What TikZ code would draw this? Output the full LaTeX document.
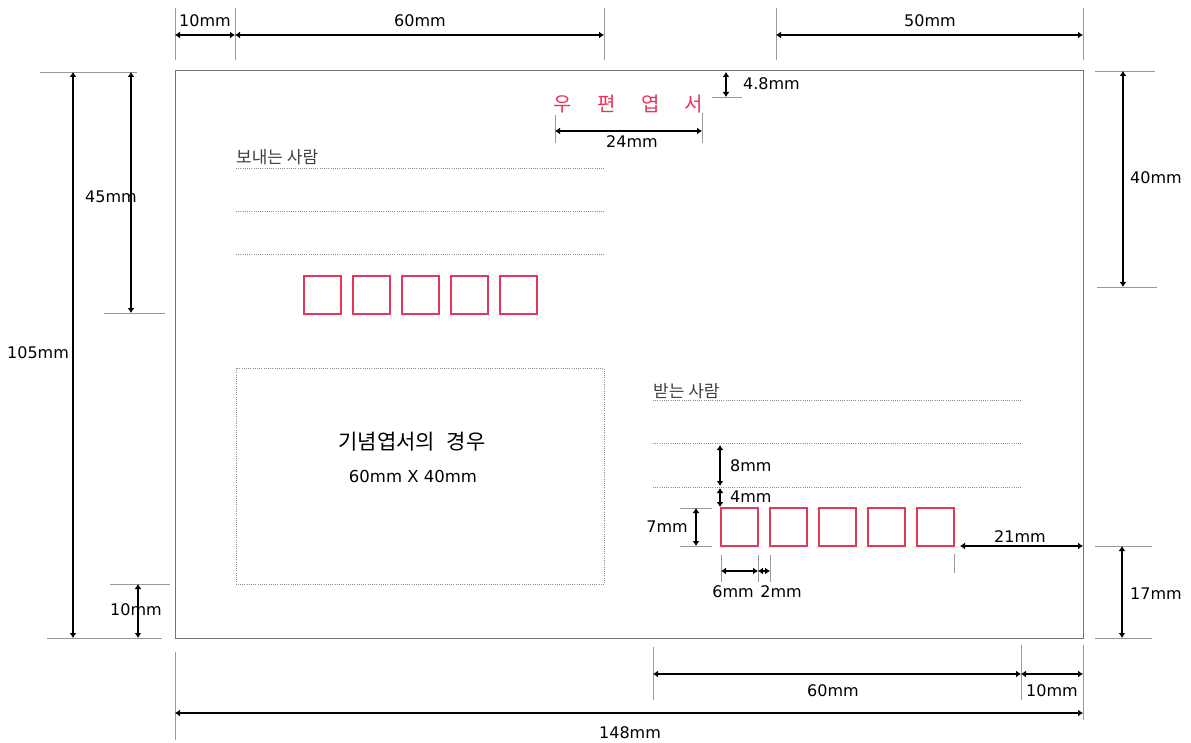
\documentclass[tikz,border=0pt]{standalone}
\usepackage{fontspec}
\setmainfont{DejaVu Sans}
\newfontfamily\kr{Noto Sans CJK KR}
\usetikzlibrary{arrows.meta}
\definecolor{pink}{HTML}{E8355A}
\definecolor{extgray}{HTML}{9A9A9A}
\tikzset{
  dim/.style={line width=1.8pt, {Latex[length=5pt,width=7pt]}-{Latex[length=5pt,width=7pt]}},
  ext/.style={draw=extgray, line width=0.9pt},
  lbl/.style={font=\fontsize{16}{16}\selectfont, inner sep=0pt},
  krl/.style={font=\kr\fontsize{17}{17}\selectfont, inner sep=0pt, text=black!75},
  dots/.style={draw=black!45, line width=0.8pt, dash pattern=on 0.8pt off 1.4pt},
  zip/.style={draw=pink, line width=1.2pt},
  red/.style={font=\kr\fontsize{20}{20}\selectfont, text=pink, inner sep=0pt}
}
\begin{document}
\begin{tikzpicture}[x=1pt,y=-1pt]
\useasboundingbox (0,0) rectangle (1191,743);
% card
\draw[draw=black!55, line width=1pt] (175,71) rectangle (1083,638);
% top dimensions
\foreach \x in {175,235,604,776,1083} \draw[ext] (\x,8) -- (\x,60);
\coordinate (t0) at (175,35); \coordinate (t1) at (235,35); \coordinate (t2) at (604,35);
\coordinate (t3) at (776,35); \coordinate (t4) at (1083,35);
\draw[dim] (t0) -- (t1);
\draw[dim] (t1) -- (t2);
\draw[dim] (t3) -- (t4);
\node[lbl] (l10a) at (205,21) {10mm};
\node[lbl] (l60a) at (420,21) {60mm};
\node[lbl] (l50) at (930,21) {50mm};
% left dimensions
\draw[ext] (40,72) -- (137,72);
\draw[ext] (104,313) -- (165,313);
\draw[ext] (110,584) -- (170,584);
\draw[ext] (47,638) -- (162,638);
\coordinate (v1a) at (73,72); \coordinate (v1b) at (73,638);
\coordinate (v2a) at (131,72); \coordinate (v2b) at (131,313);
\coordinate (v3a) at (138,584); \coordinate (v3b) at (138,638);
\draw[dim] (v1a) -- (v1b);
\draw[dim] (v2a) -- (v2b);
\draw[dim] (v3a) -- (v3b);
\node[lbl, anchor=west] (l105) at (7,353) {105mm};
\node[lbl, anchor=west] (l45) at (85,197) {45mm};
\node[lbl, anchor=west] (l10b) at (110,610) {10mm};
% right dimensions
\draw[ext] (1095,71) -- (1155,71);
\draw[ext] (1097,287) -- (1157,287);
\draw[ext] (1095,546) -- (1152,546);
\draw[ext] (1095,638) -- (1152,638);
\coordinate (r1a) at (1123,71); \coordinate (r1b) at (1123,287);
\coordinate (r2a) at (1122,546); \coordinate (r2b) at (1122,638);
\draw[dim] (r1a) -- (r1b);
\draw[dim] (r2a) -- (r2b);
\node[lbl, anchor=west] (l40) at (1130,178) {40mm};
\node[lbl, anchor=west] (l17) at (1130,594) {17mm};
% bottom dimensions
\draw[ext] (175,652) -- (175,740);
\draw[ext] (653,647) -- (653,700);
\draw[ext] (1021,645) -- (1021,700);
\draw[ext] (1083,645) -- (1083,720);
\coordinate (b0) at (653,674); \coordinate (b1) at (1021,674); \coordinate (b2) at (1083,674);
\coordinate (c0) at (175,713); \coordinate (c1) at (1083,713);
\draw[dim] (b0) -- (b1);
\draw[dim] (b1) -- (b2);
\draw[dim] (c0) -- (c1);
\node[lbl] (l60b) at (833,691) {60mm};
\node[lbl] (l10c) at (1052,691) {10mm};
\node[lbl] (l148) at (630,733) {148mm};
% title
\node[red] (u1) at (563,104) {우};
\node[red] (u2) at (607,104) {편};
\node[red] (u3) at (651,104) {엽};
\node[red] (u4) at (694,104) {서};
\draw[ext] (712,97) -- (742,97);
\coordinate (h1a) at (726,72); \coordinate (h1b) at (726,97);
\draw[dim] (h1a) -- (h1b);
\node[lbl, anchor=west] (l48) at (743,84) {4.8mm};
\draw[ext] (555,115) -- (555,143);
\draw[ext] (702,113) -- (702,143);
\coordinate (w1a) at (555,131); \coordinate (w1b) at (702,131);
\draw[dim] (w1a) -- (w1b);
\node[lbl] (l24) at (632,142) {24mm};
% sender
\node[krl, anchor=west] (snd) at (236,157) {보내는 사람};
\foreach \y in {168,211,254} \draw[dots] (236,\y) -- (604,\y);
\foreach \x in {304,353,402,451,500} \draw[zip] (\x,276) rectangle ++(37,38);
% commemorative area
\draw[dots] (236,368) rectangle (604,584);
\node[font=\kr\fontsize{21}{21}\selectfont, inner sep=0pt] (kn) at (412,442) {기념엽서의\hspace{0.55em}경우};
\node[lbl, font=\fontsize{16.5}{16.5}\selectfont] (kd) at (413,476) {60mm X 40mm};
% receiver
\node[krl, anchor=west] (rcv) at (653,391) {받는 사람};
\foreach \y in {400,443,487} \draw[dots] (653,\y) -- (1022,\y);
\foreach \x in {721,770,819,868,917} \draw[zip] (\x,508) rectangle ++(37,38);
% receiver dims
\coordinate (e1a) at (720,445); \coordinate (e1b) at (720,486);
\coordinate (e2a) at (720,488); \coordinate (e2b) at (720,507);
\draw[dim] (e1a) -- (e1b);
\draw[dim] (e2a) -- (e2b);
\node[lbl, anchor=west] (l8) at (730,466) {8mm};
\node[lbl, anchor=west] (l4) at (730,497) {4mm};
\draw[ext] (680,508) -- (712,508);
\draw[ext] (680,546) -- (712,546);
\coordinate (s1a) at (696,508); \coordinate (s1b) at (696,546);
\draw[dim] (s1a) -- (s1b);
\node[lbl] (l7) at (667,527) {7mm};
\foreach \x in {721,758,770} \draw[ext] (\x,555) -- (\x,582);
\coordinate (g0) at (721,571); \coordinate (g1) at (758,571); \coordinate (g2) at (770,571);
\draw[dim] (g0) -- (g1);
\draw[dim] (g1) -- (g2);
\node[lbl] (l6) at (733,592) {6mm};
\node[lbl] (l2) at (781,592) {2mm};
\draw[ext] (954,554) -- (954,573);
\coordinate (k0) at (960,546); \coordinate (k1) at (1083,546);
\draw[dim] (k0) -- (k1);
\node[lbl] (l21) at (1020,537) {21mm};
\end{tikzpicture}
\end{document}
